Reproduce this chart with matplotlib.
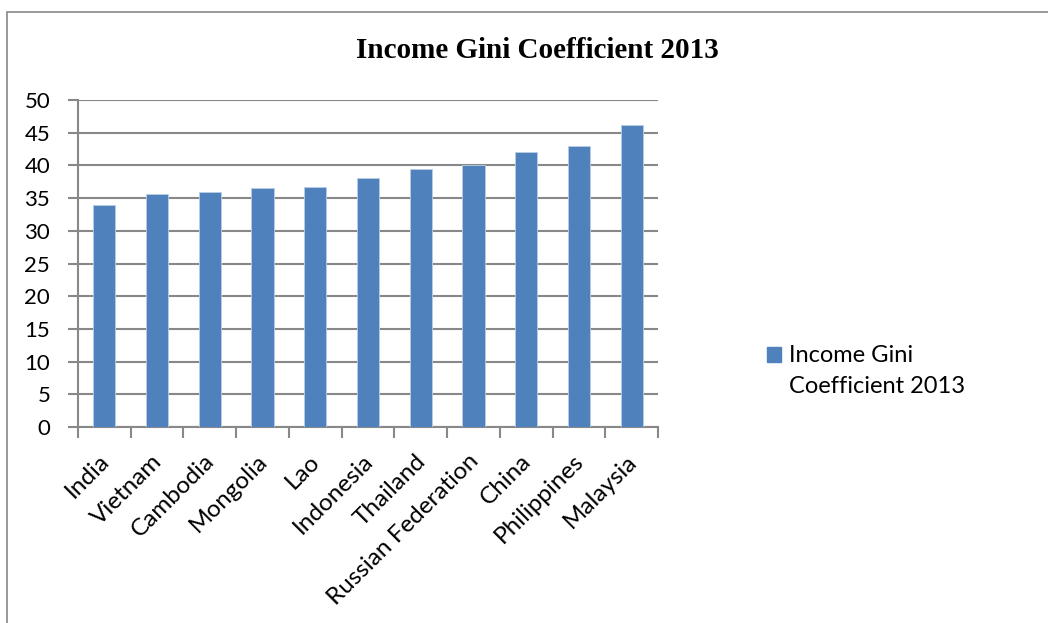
import matplotlib
matplotlib.use('Agg')
import matplotlib.pyplot as plt
import matplotlib.transforms as mtransforms
from matplotlib.patches import Rectangle

countries = ['India', 'Vietnam', 'Cambodia', 'Mongolia', 'Lao', 'Indonesia',
             'Thailand', 'Russian Federation', 'China', 'Philippines', 'Malaysia']
gini = [33.9, 35.6, 36.0, 36.5, 36.7, 38.1, 39.4, 40.1, 42.1, 43.0, 46.2]
yticks = [0, 5, 10, 15, 20, 25, 30, 35, 40, 45, 50]
series_name = 'Income Gini\nCoefficient 2013'

W, H = 1048, 623
fig = plt.figure(figsize=(W / 100, H / 100), dpi=100)

# outer chart frame (right and bottom run off the picture)
fig.patches.append(Rectangle((7 / W, -0.1), 1.2, 1.1 - 12 / H,
                             transform=fig.transFigure, fill=False,
                             edgecolor='#888888', lw=1.2))

ax = fig.add_axes([78 / W, 1 - 427 / H, (658 - 78) / W, (427 - 100) / H])
x = list(range(len(countries)))
ax.bar(x, gini, width=0.42, color='#4F81BD', edgecolor='#B9CDE5', lw=0.6, zorder=3)

ax.set_xlim(-0.5, len(countries) - 0.5)
ax.set_ylim(0, 50)
ax.set_yticks(yticks)
ax.set_yticklabels([str(t) for t in yticks], fontsize=16, family='Lato')
ax.yaxis.grid(True, color='#888888', lw=1.5, zorder=0)
ax.tick_params(axis='y', length=7, width=1.5, color='#888888', pad=13)

ax.set_xticks([i - 0.5 for i in range(len(countries) + 1)])
ax.set_xticklabels([])
ax.tick_params(axis='x', length=8, width=1.5, color='#888888')
ax.set_xticks(x, minor=True)
ax.set_xticklabels(countries, minor=True, rotation=45, ha='right', va='top',
                   rotation_mode='anchor', fontsize=17.5, family='Lato')
ax.tick_params(axis='x', which='minor', length=0, pad=17)
shift = mtransforms.ScaledTranslation(-6 / 100, 0, fig.dpi_scale_trans)
for lbl in ax.get_xticklabels(minor=True):
    lbl.set_transform(lbl.get_transform() + shift)

for s in ['top', 'right']:
    ax.spines[s].set_visible(False)
for s in ['left', 'bottom']:
    ax.spines[s].set_color('#888888')
    ax.spines[s].set_linewidth(1.5)

fig.text(537 / W, 1 - 50 / H, 'Income Gini Coefficient 2013', ha='center', va='center',
         fontsize=21, fontweight='bold', family='Liberation Serif')

# legend
fig.patches.append(Rectangle((767 / W, 1 - 362 / H), 14 / W, 15 / H,
                             transform=fig.transFigure, color='#4F81BD'))
fig.text(789 / W, 1 - 345 / H, series_name, ha='left', va='top',
         fontsize=17, family='Lato', linespacing=1.6)

fig.savefig('out.png', dpi=100)
